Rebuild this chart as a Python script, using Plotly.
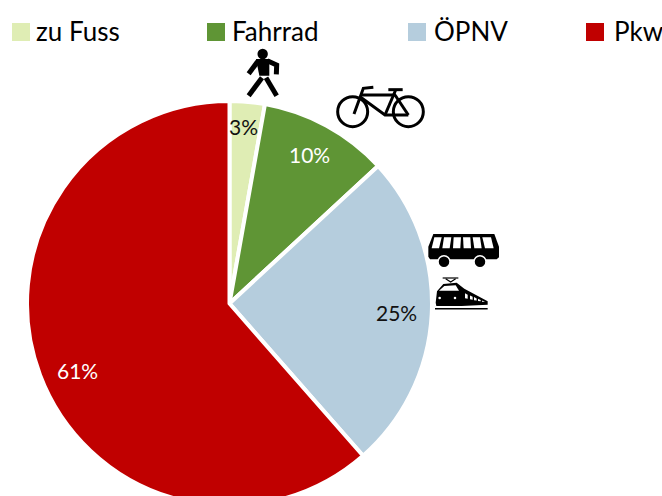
import plotly.graph_objects as go

W, H = 662, 510
VIEW_H = 496

categories = ["zu Fuss", "Fahrrad", "ÖPNV", "Pkw"]
values = [2.8, 10.3, 25.4, 61.4]
colors = ["#DFEDB4", "#5F9535", "#B5CDDD", "#C00000"]
pct_labels = ["3%", "10%", "25%", "61%"]
pct_colors = ["#111111", "#FFFFFF", "#111111", "#FFFFFF"]
pct_xy = [(243, 126), (309, 154), (397, 312), (77, 370)]
legend_box_x = [12, 207, 408, 586]
legend_text_x = [34, 230, 432, 612]
FONT = "Lato, Carlito, sans-serif"


def px(x):
    return x / W


def py(y):
    return 1 - y / H


def path(points, close=False):
    s = "M" + " L".join(f"{px(x):.5f},{py(y):.5f}" for x, y in points)
    return s + (" Z" if close else "")


shapes = []


def poly(points, fill="black"):
    shapes.append(dict(type="path", xref="paper", yref="paper", path=path(points, True),
                       fillcolor=fill, line=dict(width=0), layer="above"))


def stroke(points, width, color="black"):
    shapes.append(dict(type="path", xref="paper", yref="paper", path=path(points),
                       line=dict(color=color, width=width), layer="above"))


def circle(cx, cy, r, fill="black", line=None, lw=0):
    shapes.append(dict(type="circle", xref="paper", yref="paper",
                       x0=px(cx - r), x1=px(cx + r), y0=py(cy + r), y1=py(cy - r),
                       fillcolor=fill, line=dict(color=line or fill, width=lw), layer="above"))


def rect(x0, y0, x1, y1, fill):
    shapes.append(dict(type="rect", xref="paper", yref="paper",
                       x0=px(x0), x1=px(x1), y0=py(y1), y1=py(y0),
                       fillcolor=fill, line=dict(width=0), layer="above"))


# Legend swatches
for bx, c in zip(legend_box_x, colors):
    rect(bx, 23, bx + 18, 41, c)


# Pedestrian
def ped(x, y):
    return (240 + x / 3, 45 + y / 3)


circle(*ped(68, 27), 5.2)
poly([ped(48, 42), ped(88, 42), ped(88, 92), ped(58, 92)])
stroke([ped(55, 47), ped(26, 86)], 5)
stroke([ped(82, 47), ped(110, 60), ped(109, 88)], 5)
stroke([ped(66, 98), ped(26, 152)], 5)
stroke([ped(78, 98), ped(110, 152)], 5)


# Bicycle
def bk(x, y):
    return (230 + x / 3, 40 + y / 3)


circle(*bk(368, 215), 15, fill="rgba(0,0,0,0)", line="black", lw=3)
circle(*bk(535, 215), 15, fill="rgba(0,0,0,0)", line="black", lw=3)
stroke([bk(372, 222), bk(400, 145), bk(430, 142)], 3)
stroke([bk(392, 165), bk(498, 165)], 3)
stroke([bk(392, 172), bk(465, 225), bk(535, 225)], 3)
stroke([bk(465, 225), bk(497, 150)], 3)
stroke([bk(475, 149), bk(518, 149)], 3)
stroke([bk(495, 165), bk(535, 225)], 3)


# Bus
def b(x, y):
    return (425 + x / 3, 230 + y / 3)


poly([b(25, 12), b(208, 12), b(222, 50), b(222, 82), b(215, 88), b(15, 88), b(10, 80), b(10, 50)])
windows = [(20, 42, 8), (52, 74, 5), (84, 106, 2), (116, 138, -2), (148, 170, -5), (180, 206, -8)]
for a, c, s in windows:
    poly([b(a + s, 22), b(c + s, 22), b(c, 55), b(a, 55)], "white")
for cx in (57, 165):
    circle(*b(cx, 95), 6, fill="black", line="white", lw=1.5)


# Train
def t(x, y):
    return (425 + x / 3, 272 + y / 3)


stroke([t(53, 18), t(100, 18)], 1.2)
stroke([t(62, 20), t(77, 30), t(92, 20)], 1.2)
poly([t(32, 92), t(36, 58), t(55, 36), t(95, 32), t(118, 50), t(188, 88), t(188, 98),
      t(110, 102), t(34, 102)])
poly([t(42, 56), t(58, 42), t(92, 40), t(102, 56)], "white")
for x0 in (120, 135, 147, 159, 171):
    poly([t(x0, 64 + (x0 - 120) * 0.42), t(x0 + 8, 68 + (x0 - 120) * 0.42),
          t(x0 + 8, 80 + (x0 - 120) * 0.2), t(x0, 79 + (x0 - 120) * 0.2)], "white")
circle(*t(44, 78), 1.3, fill="white")
circle(*t(90, 78), 1.3, fill="white")
stroke([t(30, 110), t(188, 110)], 1.5)

annotations = []
for x, label in zip(legend_text_x, categories):
    annotations.append(dict(x=px(x), y=py(31), xref="paper", yref="paper", text=label, showarrow=False,
                            xanchor="left", yanchor="middle", font=dict(family=FONT, size=26, color="black")))
for (x, y), label, c in zip(pct_xy, pct_labels, pct_colors):
    annotations.append(dict(x=px(x), y=py(y), xref="paper", yref="paper", text=label, showarrow=False,
                            xanchor="center", yanchor="middle", font=dict(family=FONT, size=21, color=c)))

# The reference pie runs off the bottom of the page
cx, cy, r = 229.5, 303.5, 202.5
fig = go.Figure(go.Pie(
    labels=categories, values=values, sort=False, direction="clockwise", rotation=0,
    marker=dict(colors=colors, line=dict(color="white", width=4)),
    textinfo="none", hoverinfo="label+percent",
    domain=dict(x=[(cx - r) / W, (cx + r) / W], y=[1 - (cy + r) / H, 1 - (cy - r) / H]),
    showlegend=False,
))
fig.update_layout(width=W, height=H, margin=dict(l=0, r=0, t=0, b=0), paper_bgcolor="white",
                  showlegend=False, shapes=shapes, annotations=annotations,
                  font=dict(family=FONT))
fig.write_html("out.html", config=dict(displayModeBar=False), post_script="""
document.documentElement.style.overflow='hidden';
document.documentElement.style.height='496px';
document.body.style.margin='0';
document.body.style.overflow='hidden';
document.body.style.height='496px';
""")
